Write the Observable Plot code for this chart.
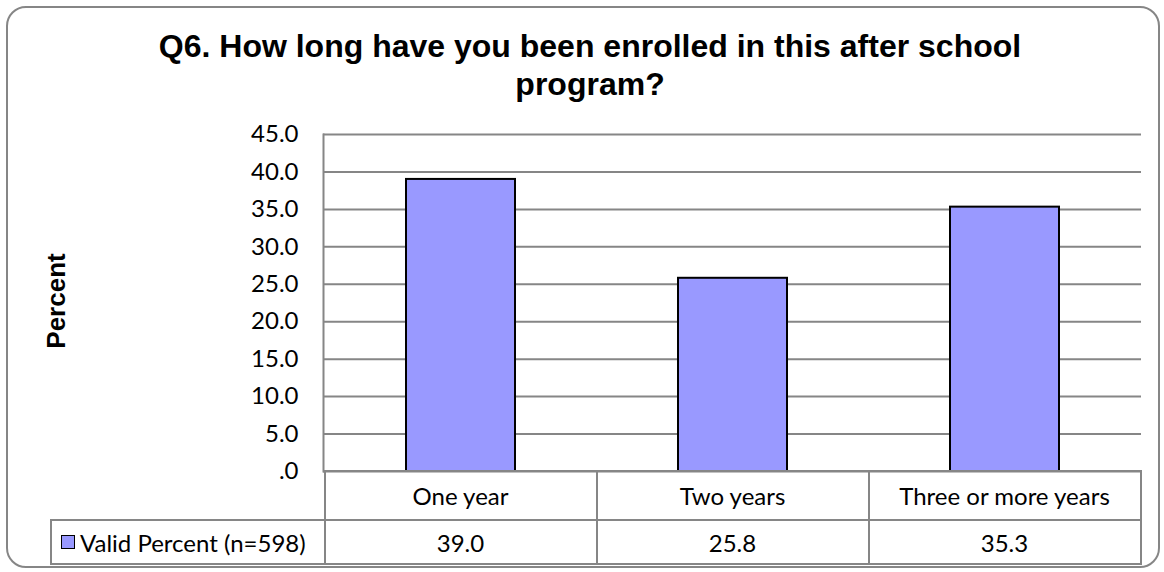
<!DOCTYPE html>
<html><head><meta charset="utf-8">
<script src="https://cdn.jsdelivr.net/npm/d3@7"></script>
<script src="https://cdn.jsdelivr.net/npm/@observablehq/plot@0.6"></script>
<style>
body{margin:0;background:#fff;}
#wrap{position:relative;width:1164px;height:572px;overflow:hidden;font-family:Lato,sans-serif;color:#000;}
#frame{position:absolute;left:6px;top:6px;width:1150px;height:558px;border:2px solid #868686;border-radius:20px;}
#title{position:absolute;left:90px;width:1000px;top:27px;text-align:center;font:bold 32px "Liberation Sans",Arial,sans-serif;line-height:38px;}
#ylab{position:absolute;left:56px;top:301px;transform:translate(-50%,-50%) rotate(-90deg);font:bold 26px "Liberation Sans",Arial,sans-serif;white-space:nowrap;line-height:1;}
#chart{position:absolute;left:0;top:0;}
.cell{position:absolute;box-sizing:border-box;border:2px solid #868686;display:flex;align-items:center;justify-content:center;font-size:24px;font-family:Lato,sans-serif;white-space:nowrap;}
.sw{display:inline-block;width:12px;height:12px;background:#9999FF;border:1px solid #000;margin-right:5px;}
</style></head>
<body>
<div id="wrap">
  <div id="frame"></div>
  <div id="chart"></div>
  <div id="title"></div>
  <div id="ylab"></div>
</div>
<script>
const titleLines = ["Q6. How long have you been enrolled in this after school", "program?"];
const yLabel = "Percent";
const categories = ["One year", "Two years", "Three or more years"];
const values = [39.0, 25.8, 35.3];
const valueLabels = ["39.0", "25.8", "35.3"];
const seriesName = "Valid Percent (n=598)";
const yTicks = [0, 5, 10, 15, 20, 25, 30, 35, 40, 45];
const yTickLabels = [".0", "5.0", "10.0", "15.0", "20.0", "25.0", "30.0", "35.0", "40.0", "45.0"];

const data = categories.map((c, i) => ({cat: c, val: values[i]}));

const plot = Plot.plot({
  width: 1164, height: 572,
  marginLeft: 323, marginRight: 23, marginTop: 134, marginBottom: 101,
  style: {fontFamily: "Lato, sans-serif", fontSize: "24px", color: "#000", background: "transparent"},
  x: {domain: categories, paddingInner: 0.6, paddingOuter: 0.3, axis: null},
  y: {domain: [0, 45], axis: null},
  marks: [
    Plot.ruleY(yTicks, {stroke: "#868686", strokeWidth: 2}),
    Plot.frame({anchor: "left", stroke: "#868686", strokeWidth: 2}),
    Plot.axisY({ticks: yTicks, tickFormat: (d) => yTickLabels[yTicks.indexOf(d)], tickSize: 0, tickPadding: 25, label: null, fontSize: 24}),
    Plot.barY(data, {x: "cat", y: "val", fill: "#9999FF", stroke: "#000", strokeWidth: 2})
  ]
});
document.getElementById("chart").appendChild(plot);
document.getElementById("title").innerHTML = titleLines.join("<br>");
document.getElementById("ylab").textContent = yLabel;

// data table below the plot, aligned with the x scale
const xs = plot.scale("x");
const ys = plot.scale("y");
const y0 = ys.apply(0);
const row1H = 49, row2H = 44;
const wrap = document.getElementById("wrap");
function cell(left, top, w, h, html, extra) {
  const d = document.createElement("div");
  d.className = "cell";
  d.style.left = (left - 1) + "px";
  d.style.top = (top - 1) + "px";
  d.style.width = (w + 2) + "px";
  d.style.height = (h + 2) + "px";
  if (extra) Object.assign(d.style, extra);
  d.innerHTML = html;
  wrap.appendChild(d);
}
categories.forEach((c, i) => {
  const center = xs.apply(c) + xs.bandwidth / 2;
  const left = center - xs.step / 2;
  cell(left, y0, xs.step, row1H, c);
  cell(left, y0 + row1H, xs.step, row2H, valueLabels[i]);
});
const plotLeft = xs.apply(categories[0]) + xs.bandwidth / 2 - xs.step / 2;
cell(51, y0 + row1H, plotLeft - 51, row2H, `<span class="sw"></span>${seriesName}`, {justifyContent: "flex-start", paddingLeft: "9px"});
</script>
</body></html>
